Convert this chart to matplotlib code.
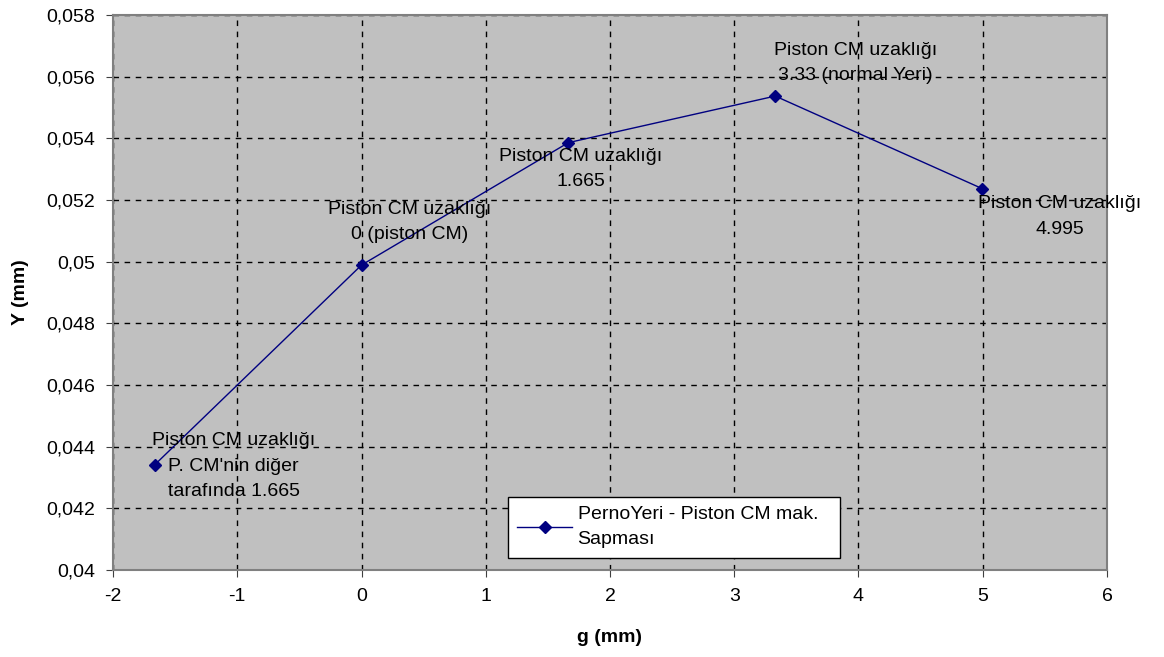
import matplotlib
matplotlib.use("Agg")
from matplotlib import pyplot as plt
from matplotlib.ticker import FuncFormatter

# Veriler
g_mm = [-1.665, 0.0, 1.665, 3.33, 4.995]
y_mm = [0.04341, 0.04989, 0.05386, 0.05537, 0.05237]
etiketler = [
    "Piston CM uzaklığı\nP. CM'nin diğer\ntarafında 1.665",
    "Piston CM uzaklığı\n0 (piston CM)",
    "Piston CM uzaklığı\n1.665",
    "Piston CM uzaklığı\n3.33 (normal Yeri)",
    "Piston CM uzaklığı\n4.995",
]
seri_adi = "PernoYeri - Piston CM mak.\nSapması"
x_ticks = [-2, -1, 0, 1, 2, 3, 4, 5, 6]
y_ticks = [0.04, 0.042, 0.044, 0.046, 0.048, 0.05, 0.052, 0.054, 0.056, 0.058]

# Etiketlerin noktaya göre kayması (punto)
kaymalar = [(57, -1), (35, 31), (9, -19), (58, 24), (56, -20)]

plt.rcParams['font.family'] = ['Liberation Sans', 'DejaVu Sans']
plt.rcParams['axes.unicode_minus'] = False
fs = 14

fig = plt.figure(figsize=(11.64, 6.57), dpi=100)
ax = fig.add_axes([0.0971, 0.1324, 0.8539, 0.8448])
ax.set_facecolor('#C0C0C0')

ax.plot(g_mm, y_mm, color='#000080', linewidth=1, marker='D', markersize=6.5,
        label=seri_adi, zorder=3)

for x, y, t, (dx, dy) in zip(g_mm, y_mm, etiketler, kaymalar):
    ax.annotate(t, (x, y), xytext=(dx, dy), textcoords='offset points',
                ha='center', va='center', fontsize=fs, linespacing=1.65,
                annotation_clip=False, zorder=4)

ax.set_xlim(-2, 6)
ax.set_ylim(0.04, 0.058)
ax.set_xticks(x_ticks)
ax.set_yticks(y_ticks)
ax.yaxis.set_major_formatter(FuncFormatter(lambda v, p: f"{round(v, 3):g}".replace('.', ',')))
ax.tick_params(direction='out', length=5, labelsize=fs, pad=8, color='#404040')
ax.grid(True, color='black', linestyle=(0, (4, 4)), linewidth=1)
ax.set_axisbelow(True)
for s in ax.spines.values():
    s.set_color('#808080')
    s.set_linewidth(1.5)

ax.set_xlabel("g (mm)", fontsize=fs, fontweight='bold', labelpad=17)
ax.set_ylabel("Y (mm)", fontsize=fs, fontweight='bold', labelpad=12)

leg = ax.legend(loc='lower left', bbox_to_anchor=(0.397, 0.022, 0.334, 0.117),
                mode='expand', fontsize=fs, handlelength=2.8, handletextpad=0.3,
                borderpad=0.5, fancybox=False, framealpha=1, edgecolor='black',
                borderaxespad=0)
leg.get_frame().set_linewidth(1)
for t in leg.get_texts():
    t.set_linespacing(1.6)

fig.savefig("out.png", dpi=100)
